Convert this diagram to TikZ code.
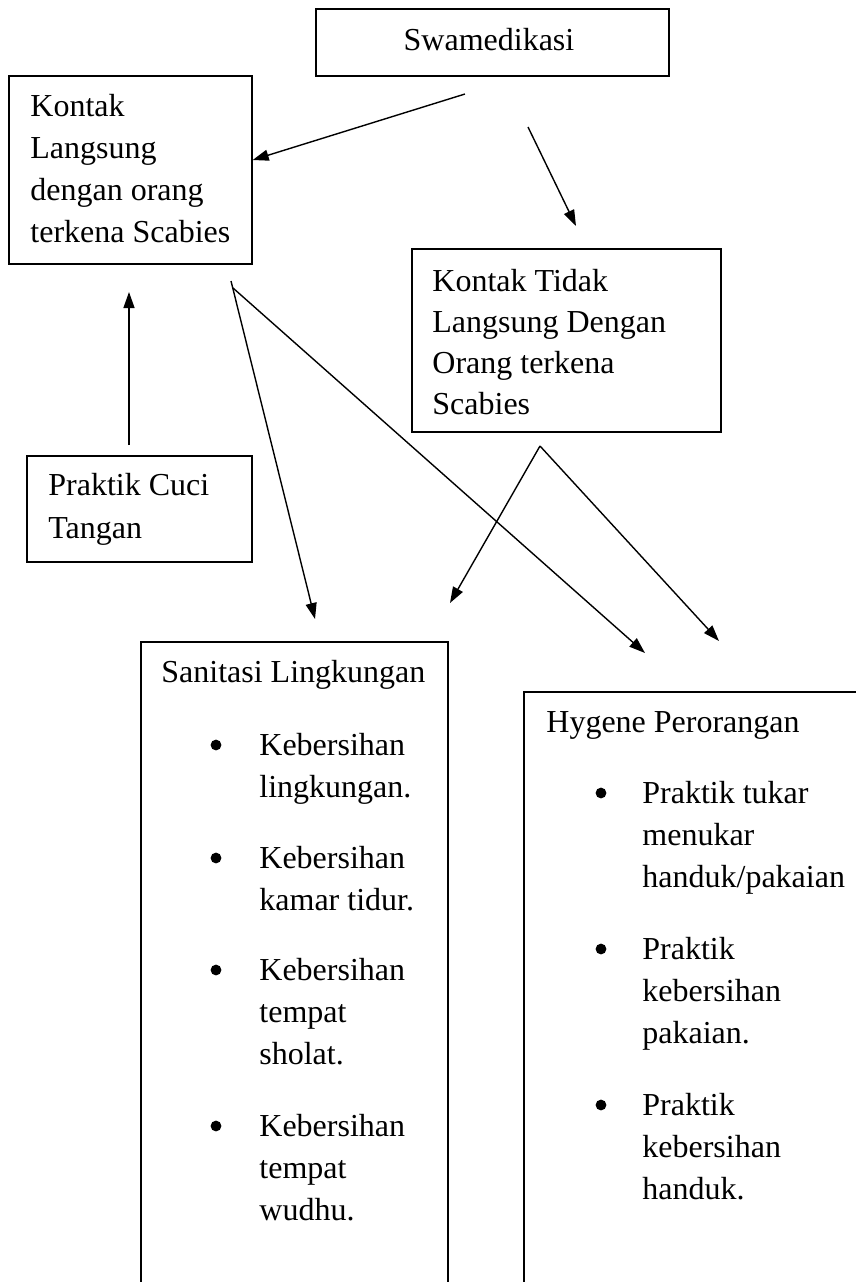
\documentclass[tikz,border=0pt]{standalone}
\usepackage{fontspec}
\setmainfont{Liberation Serif}
\usetikzlibrary{arrows.meta,fit}

\tikzset{
    box/.style={draw,line width=0.7pt,inner sep=0pt},
    txt/.style={anchor=base west,inner sep=0pt,font=\fontsize{16}{21}\selectfont},
    dot/.style={circle,fill,inner sep=0pt,minimum size=5.4pt},
    arr/.style={line width=0.7pt,-{Triangle[length=8pt,width=5.5pt]}}
}

\begin{document}
\begin{tikzpicture}[x=0.5pt,y=-0.5pt]
    \useasboundingbox (0,0) rectangle (856,1282);
    \clip (0,0) rectangle (856,1282);
    % kotak
    \node [box,fit={(316,9)(669,76)}] (swa) {};
    \node [box,fit={(9,76)(252,264)}] (kl) {};
    \node [box,fit={(412,249)(721,432)}] (kt) {};
    \node [box,fit={(27,456)(252,562)}] (pct) {};
    \node [box,fit={(141,642)(448,1320)}] (san) {};
    \node [box,fit={(524,692)(890,1320)}] (hyg) {};
    % teks
    \node [txt,anchor=base] (swa-t) at (489,50) {Swamedikasi};
    \foreach \s [count=\i] in {Kontak,Langsung,dengan orang,terkena Scabies}
        \node [txt] (kl-\i) at (30,{116+42*(\i-1)}) {\s};
    \foreach \s [count=\i] in {Kontak Tidak,Langsung Dengan,Orang terkena,Scabies}
        \node [txt] (kt-\i) at (432,{291+41.3*(\i-1)}) {\s};
    \foreach \s [count=\i] in {Praktik Cuci,Tangan}
        \node [txt] (pct-\i) at (48,{495+43*(\i-1)}) {\s};
    \node [txt] (san-t) at (161,682) {Sanitasi Lingkungan};
    \foreach \y [count=\i] in {755,868,980,1136}
        \node [dot] (san-b\i) at (216,\y-10) {};
    \foreach \s/\y [count=\i] in {Kebersihan/755,lingkungan./797,Kebersihan/868,kamar tidur./910,Kebersihan/980,tempat/1022,sholat./1064,Kebersihan/1136,tempat/1178,wudhu./1220}
        \node [txt] (san-\i) at (259,\y) {\s};
    \node [txt] (hyg-t) at (546,732) {Hygene Perorangan};
    \foreach \y [count=\i] in {803,959,1115}
        \node [dot] (hyg-b\i) at (601,\y-10) {};
    \foreach \s/\y [count=\i] in {Praktik tukar/803,menukar/845,{handuk/pakaian}/887,Praktik/959,kebersihan/1001,pakaian./1043,Praktik/1115,kebersihan/1157,handuk./1199}
        \node [txt] (hyg-\i) at (642,\y) {\s};
    % ujung panah
    \coordinate (swa-a) at (465,94);
    \coordinate (swa-b) at (528,127);
    \coordinate (kt-in) at (576,226);
    \coordinate (pct-out) at (129,445);
    \coordinate (kl-in) at (129,292);
    \coordinate (kl-a) at (231,281);
    \coordinate (kl-b) at (233,288);
    \coordinate (kt-out) at (540,446);
    \coordinate (san-in1) at (315,619);
    \coordinate (san-in2) at (450,603);
    \coordinate (hyg-in1) at (645,653);
    \coordinate (hyg-in2) at (719,641);
    % panah
    \draw [arr] (swa-a) -- ([yshift=5pt]kl.east);
    \draw [arr] (swa-b) -- (kt-in);
    \draw [arr] (pct-out) -- (kl-in);
    \draw [arr] (kl-a) -- (san-in1);
    \draw [arr] (kl-b) -- (hyg-in1);
    \draw [arr] (kt-out) -- (san-in2);
    \draw [arr] (kt-out) -- (hyg-in2);
\end{tikzpicture}
\end{document}
